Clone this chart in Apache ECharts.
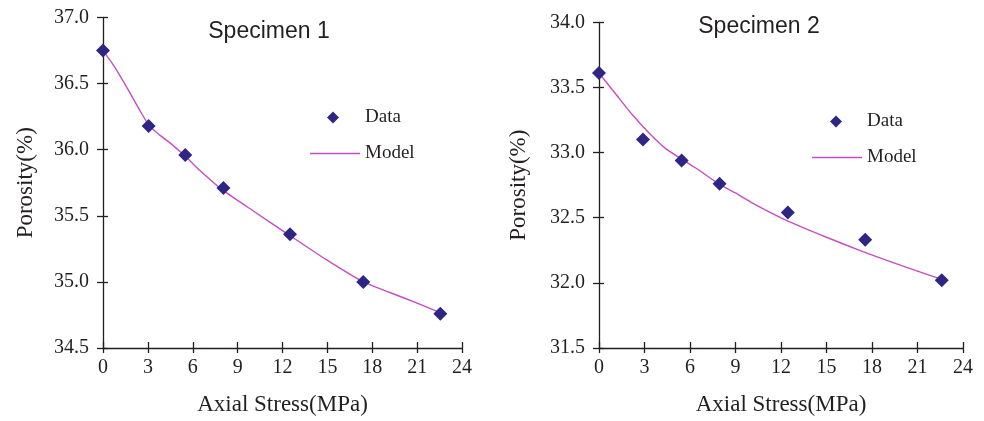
<!DOCTYPE html>
<html>
<head>
<meta charset="utf-8">
<script src="https://cdn.jsdelivr.net/npm/echarts@6/dist/echarts.min.js"></script>
<style>
  html, body { margin: 0; padding: 0; background: #fff; }
  #chart { width: 984px; height: 421px; }
</style>
</head>
<body>
<div id="chart"></div>
<script>
// Measured porosity vs axial stress, two specimens
const stress1 = [0, 3.05, 5.5, 8.05, 12.5, 17.4, 22.55];
const porosity1 = [36.75, 36.18, 35.96, 35.71, 35.36, 35.0, 34.76];
const stress2 = [0, 2.9, 5.45, 7.95, 12.45, 17.55, 22.6];
const porosity2 = [33.61, 33.1, 32.94, 32.76, 32.54, 32.33, 32.02];

// Model curves
const modelStress1 = [0, 0.7, 1.6, 2.45, 3.1, 3.8, 4.6, 5.5, 6.5, 7.3, 8.05, 10.0, 12.5, 14.9, 17.4, 20.1, 22.5];
const modelPorosity1 = [36.75, 36.64, 36.47, 36.30, 36.18, 36.11, 36.04, 35.95, 35.84, 35.76, 35.69, 35.54, 35.35, 35.17, 35.0, 34.88, 34.77];
const modelStress2 = [0, 1.1, 2.2, 3.3, 4.4, 5.45, 6.4, 7.9, 9.0, 10.15, 12.35, 15.0, 17.4, 20.0, 22.5];
const modelPorosity2 = [33.61, 33.45, 33.29, 33.15, 33.03, 32.95, 32.88, 32.76, 32.69, 32.61, 32.48, 32.35, 32.24, 32.13, 32.03];

const titles = ['Specimen 1', 'Specimen 2'];
const xTicks = { min: 0, max: 24, interval: 3 };
const yRanges = [{ min: 34.5, max: 37.0 }, { min: 31.5, max: 34.0 }];
const xName = 'Axial Stress(MPa)';
const yName = 'Porosity(%)';

const INK = '#231f20';
const MARK = '#2e2585';
const LINE = '#c34fc3';
const SERIF = '"Liberation Serif", "Times New Roman", serif';
const SANS = '"Liberation Sans", Arial, sans-serif';

const zip = (a, b) => a.map((v, i) => [v, b[i]]);

const grids = [
  { left: 103, right: 522, top: 17.5, bottom: 73 },
  { left: 599, right: 21, top: 22.3, bottom: 73 }
];

const tickStyle = { color: INK, width: 1.3 };
const xAxes = [], yAxes = [];
grids.forEach((g, i) => {
  // main axes: line, outward tick half, labels, names
  xAxes.push({
    gridIndex: i, type: 'value', min: xTicks.min, max: xTicks.max, interval: xTicks.interval,
    position: 'bottom',
    name: xName, nameLocation: 'middle', nameGap: 45,
    nameTextStyle: { fontFamily: SERIF, fontSize: 23, color: INK },
    axisLine: { show: true, onZero: false, lineStyle: { color: INK, width: 1.3 } },
    axisTick: { show: true, inside: false, length: 5, lineStyle: tickStyle },
    axisLabel: { fontFamily: SERIF, fontSize: 20, color: INK, margin: 10 },
    splitLine: { show: false }
  });
  yAxes.push({
    gridIndex: i, type: 'value', min: yRanges[i].min, max: yRanges[i].max, interval: 0.5,
    position: 'left',
    name: yName, nameLocation: 'middle', nameGap: i === 0 ? 66 : 69, nameRotate: 90,
    nameTextStyle: { fontFamily: SERIF, fontSize: 23, color: INK },
    axisLine: { show: true, onZero: false, lineStyle: { color: INK, width: 1.3 } },
    axisTick: { show: true, inside: false, length: 6, lineStyle: tickStyle },
    axisLabel: { fontFamily: SERIF, fontSize: 20, color: INK, margin: 14, formatter: v => v.toFixed(1) },
    splitLine: { show: false }
  });
});
// companion axes on the same lines, carrying the inward tick half
grids.forEach((g, i) => {
  xAxes.push({
    gridIndex: i, type: 'value', min: xTicks.min, max: xTicks.max, interval: xTicks.interval,
    position: 'bottom',
    axisLine: { show: false }, axisLabel: { show: false }, splitLine: { show: false },
    axisTick: { show: true, inside: true, length: 6, lineStyle: tickStyle }
  });
  yAxes.push({
    gridIndex: i, type: 'value', min: yRanges[i].min, max: yRanges[i].max, interval: 0.5,
    position: 'left',
    axisLine: { show: false }, axisLabel: { show: false }, splitLine: { show: false },
    axisTick: { show: true, inside: true, length: 5, lineStyle: tickStyle }
  });
});

const legendText = { fontFamily: SERIF, fontSize: 19, color: INK };

const option = {
  backgroundColor: '#fff',
  animation: false,
  title: [
    { text: titles[0], left: 264, top: 15, textAlign: 'center',
      textStyle: { fontFamily: SANS, fontSize: 23, fontWeight: 'normal', color: INK } },
    { text: titles[1], left: 754, top: 10, textAlign: 'center',
      textStyle: { fontFamily: SANS, fontSize: 23, fontWeight: 'normal', color: INK } }
  ],
  legend: [
    { data: [{ name: 'Data', icon: 'diamond' }], left: 322, top: 103, itemWidth: 12, itemHeight: 12,
      textStyle: Object.assign({ padding: [0, 0, 0, 21] }, legendText) },
    { data: [{ name: 'Model', icon: 'rect' }], left: 305, top: 139, itemWidth: 50, itemHeight: 1.5,
      textStyle: legendText },
    { data: [{ name: 'Data', icon: 'diamond' }], left: 825, top: 107, itemWidth: 12, itemHeight: 12,
      textStyle: Object.assign({ padding: [0, 0, 0, 20] }, legendText) },
    { data: [{ name: 'Model', icon: 'rect' }], left: 807, top: 143, itemWidth: 50, itemHeight: 1.5,
      textStyle: legendText }
  ],
  grid: grids,
  xAxis: xAxes,
  yAxis: yAxes,
  series: [
    { name: 'Model', type: 'line', xAxisIndex: 0, yAxisIndex: 0, data: zip(modelStress1, modelPorosity1),
      showSymbol: false, symbol: 'none', smooth: 0.2, lineStyle: { color: LINE, width: 1.4 },
      itemStyle: { color: LINE }, z: 2 },
    { name: 'Data', type: 'scatter', xAxisIndex: 0, yAxisIndex: 0, data: zip(stress1, porosity1),
      symbol: 'diamond', symbolSize: 14, itemStyle: { color: MARK, opacity: 1 }, z: 3 },
    { name: 'Model', type: 'line', xAxisIndex: 1, yAxisIndex: 1, data: zip(modelStress2, modelPorosity2),
      showSymbol: false, symbol: 'none', smooth: 0.2, lineStyle: { color: LINE, width: 1.4 },
      itemStyle: { color: LINE }, z: 2 },
    { name: 'Data', type: 'scatter', xAxisIndex: 1, yAxisIndex: 1, data: zip(stress2, porosity2),
      symbol: 'diamond', symbolSize: 14, itemStyle: { color: MARK, opacity: 1 }, z: 3 }
  ]
};

const chart = echarts.init(document.getElementById('chart'), null, { renderer: 'canvas' });
chart.setOption(option);
</script>
</body>
</html>
